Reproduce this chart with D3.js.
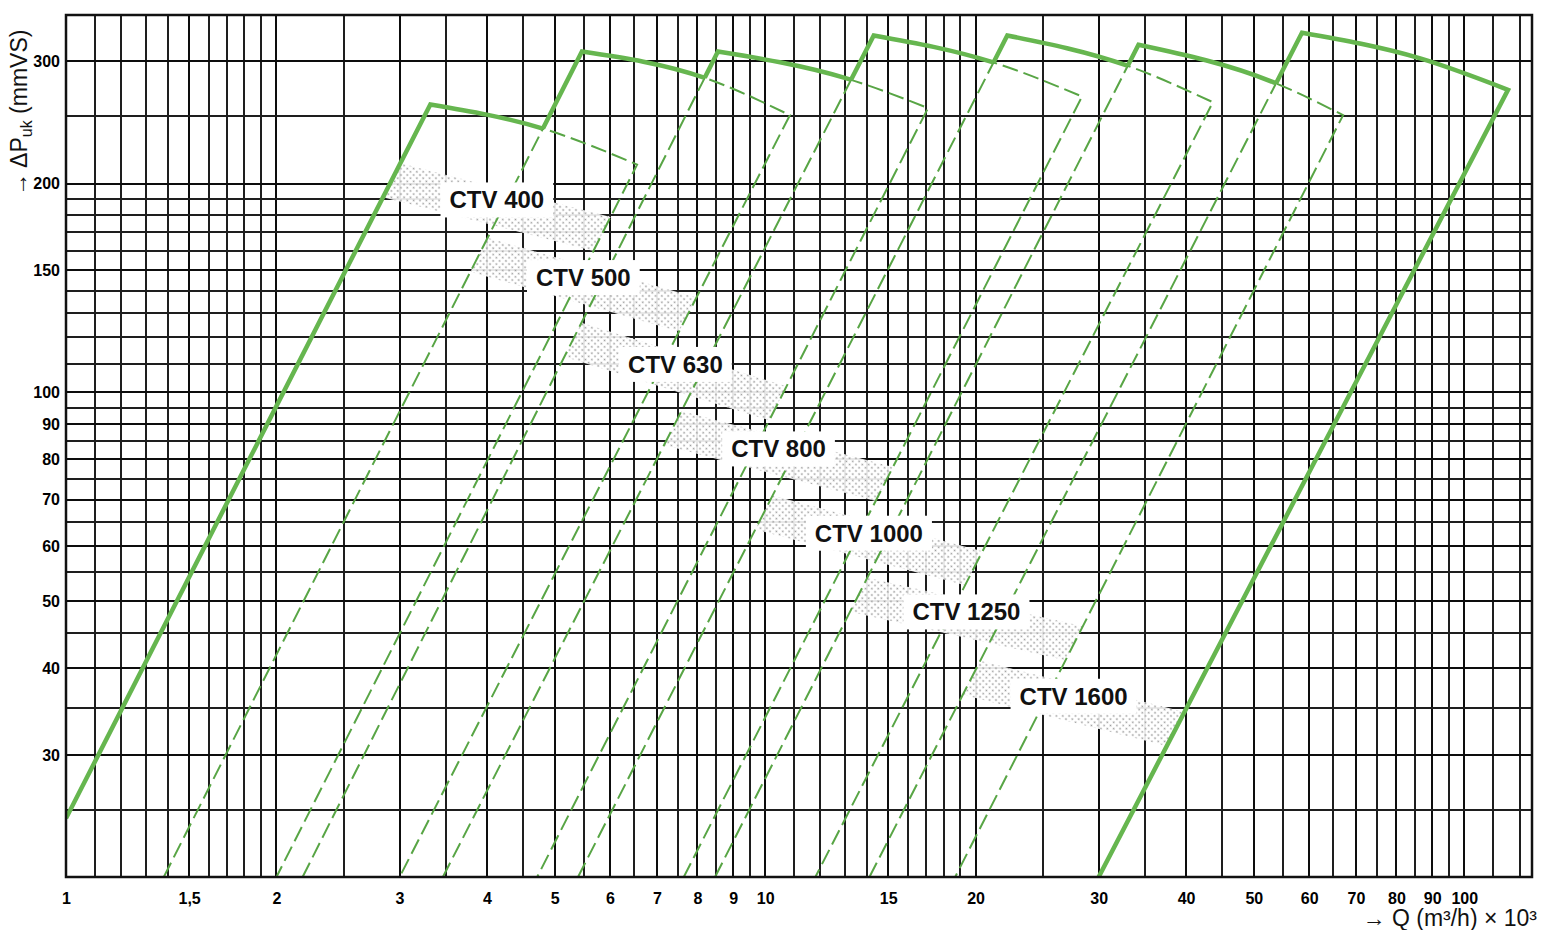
<!DOCTYPE html>
<html>
<head>
<meta charset="utf-8">
<script src="https://cdn.jsdelivr.net/npm/d3@7"></script>
<style>
  body { margin: 0; background: #fff; }
  svg { display: block; font-family: "Liberation Sans", Arial, sans-serif; }
</style>
</head>
<body>
<svg id="chart"></svg>
<script>
const W = 1552, H = 930;
const margin = { top: 15, right: 20, bottom: 53, left: 66 };

// fan sizes
const models = ["CTV 400", "CTV 500", "CTV 630", "CTV 800", "CTV 1000", "CTV 1250", "CTV 1600"];

// [Q (m3/h x 1000), dP (mmVS)]
const leftFoot = [[1, 24.3], [1.38, 20], [2.18, 20], [3.46, 20], [5.4, 20], [8.48, 20], [14.1, 20]];
const topCurve = [
  [[3.32, 260], [4.81, 240], [6.56, 213]],
  [[5.47, 310], [8.2, 284], [10.85, 251]],
  [[8.56, 310], [13.0, 284], [17.1, 257]],
  [[14.3, 327], [21.2, 299], [28.4, 267]],
  [[22.2, 327], [32.9, 296], [43.7, 262]],
  [[34.2, 317], [53.3, 280], [67.1, 251]],
  [[58.6, 330], [86.5, 303], [115.5, 273]]
];
const rightFoot = [[2.0, 20], [3.0, 20], [4.72, 20], [7.65, 20], [11.8, 20], [18.7, 20], [30, 20]];

// shaded label bands: dP where the band's upper edge meets the left / right line
const bandFrom = [214, 167, 126, 94, 71, 54, 41];
const bandTo = [179, 137, 102, 78, 59, 46, 34.6];

const xTicks = [1, 1.5, 2, 3, 4, 5, 6, 7, 8, 9, 10, 15, 20, 30, 40, 50, 60, 70, 80, 90, 100];
const yTicks = [30, 40, 50, 60, 70, 80, 90, 100, 150, 200, 300];

const svg = d3.select("#chart").attr("width", W).attr("height", H);

const x = d3.scaleLog().domain([1, 125]).range([margin.left, W - margin.right]);
const y = d3.scaleLog().domain([20, 350]).range([H - margin.bottom, margin.top]);
const x0 = x.range()[0], x1 = x.range()[1], yb = y.range()[0], yt = y.range()[1];

const defs = svg.append("defs");
defs.append("clipPath").attr("id", "plot")
  .append("rect").attr("x", x0).attr("y", yt).attr("width", x1 - x0).attr("height", yb - yt);

const pat = defs.append("pattern").attr("id", "dots")
  .attr("width", 4.5).attr("height", 4.5)
  .attr("patternUnits", "userSpaceOnUse")
  .attr("patternTransform", "rotate(45)");
pat.append("rect").attr("width", 4.5).attr("height", 4.5).attr("fill", "#fff").attr("fill-opacity", 0.9);
pat.append("circle").attr("cx", 2.25).attr("cy", 2.25).attr("r", 0.95).attr("fill", "#9c9c9c");

// log paper grid
const xGrid = d3.range(11, 20).map(v => v / 10)
  .concat(d3.range(4, 20).map(v => v / 2), d3.range(10, 20), d3.range(20, 100, 5), d3.range(100, 125, 10))
  .filter(v => v > 1);
const yGrid = d3.range(25, 100, 5).concat(d3.range(100, 200, 10), [200, 250, 300]);

const grid = svg.append("g").attr("shape-rendering", "crispEdges");
grid.selectAll("line.v").data(xGrid).join("line")
  .attr("class", "v")
  .attr("x1", d => x(d)).attr("x2", d => x(d))
  .attr("y1", yt).attr("y2", yb)
  .attr("stroke", d => xTicks.includes(d) ? "#0d0d0d" : "#1e1e1e")
  .attr("stroke-width", 2);
grid.selectAll("line.h").data(yGrid).join("line")
  .attr("class", "h")
  .attr("x1", x0).attr("x2", x1)
  .attr("y1", d => y(d)).attr("y2", d => y(d))
  .attr("stroke", d => yTicks.includes(d) ? "#0d0d0d" : "#1e1e1e")
  .attr("stroke-width", 2);

const lin = d3.line().x(d => x(d[0])).y(d => y(d[1]));
const arc = d3.line().x(d => x(d[0])).y(d => y(d[1])).curve(d3.curveMonotoneX);

function outline(i) {
  const t = topCurve[i], r = rightFoot[i];
  return lin([leftFoot[i], t[0]]) + arc(t).replace(/^M/, "L") + `L${x(r[0])},${y(r[1])}`;
}
function region(i) {
  return outline(i) + `L${x(leftFoot[i][0])},${yb}Z`;
}

// point on a straight pixel segment at a given pixel y
function atY(a, b, yy) {
  const pa = [x(a[0]), y(a[1])], pb = [x(b[0]), y(b[1])];
  return [pa[0] + (yy - pa[1]) * (pb[0] - pa[0]) / (pb[1] - pa[1]), yy];
}
const bandH = 34;
function band(i) {
  const t = topCurve[i];
  const ya = y(bandFrom[i]), yz = y(bandTo[i]);
  return [
    atY(leftFoot[i], t[0], ya),
    atY(t[t.length - 1], rightFoot[i], yz),
    atY(t[t.length - 1], rightFoot[i], yz + bandH),
    atY(leftFoot[i], t[0], ya + bandH)
  ];
}

const plot = svg.append("g").attr("clip-path", "url(#plot)");

plot.append("g").selectAll("path").data(models).join("path")
  .attr("d", (d, i) => "M" + band(i).join("L") + "Z")
  .attr("fill", "url(#dots)");

// each fan's limits, thin dashed
plot.append("g").selectAll("path").data(models).join("path")
  .attr("d", (d, i) => outline(i))
  .attr("fill", "none")
  .attr("stroke", "#58a545")
  .attr("stroke-width", 2)
  .attr("stroke-dasharray", "16 6");

// outer envelope: each outline minus what lies inside the other fans
models.forEach((m, i) => {
  const mk = defs.append("mask").attr("id", "env" + i)
    .attr("maskUnits", "userSpaceOnUse")
    .attr("x", 0).attr("y", 0).attr("width", W).attr("height", H);
  mk.append("rect").attr("width", W).attr("height", H).attr("fill", "#fff");
  models.forEach((n, j) => {
    if (j !== i) mk.append("path").attr("d", region(j)).attr("fill", "#000");
  });
});
plot.append("g").selectAll("path").data(models).join("path")
  .attr("d", (d, i) => outline(i))
  .attr("mask", (d, i) => `url(#env${i})`)
  .attr("fill", "none")
  .attr("stroke", "#66b64f")
  .attr("stroke-width", 4.5)
  .attr("stroke-linejoin", "miter");

// frame
svg.append("rect")
  .attr("x", x0).attr("y", yt).attr("width", x1 - x0).attr("height", yb - yt)
  .attr("fill", "none").attr("stroke", "#111").attr("stroke-width", 2.5);

// labels
const labels = svg.append("g").selectAll("g").data(models).join("g")
  .attr("transform", (d, i) => {
    const p = band(i);
    return `translate(${d3.mean(p, q => q[0])},${d3.mean(p, q => q[1]) + bandH / 2 - 24})`;
  });
labels.append("text")
  .attr("text-anchor", "middle")
  .attr("dy", "0.35em")
  .attr("font-size", 24)
  .attr("font-weight", 700)
  .attr("fill", "#111")
  .text(d => d);
labels.each(function () {
  const g = d3.select(this);
  const bb = g.select("text").node().getBBox();
  g.insert("rect", "text")
    .attr("x", bb.x - 9).attr("y", bb.y - 4)
    .attr("width", bb.width + 18).attr("height", bb.height + 8)
    .attr("fill", "#fff");
});

// axes
svg.append("g")
  .attr("transform", `translate(0,${yb})`)
  .call(d3.axisBottom(x).tickValues(xTicks).tickSize(0).tickPadding(16)
    .tickFormat(d => String(d).replace(".", ",")))
  .call(g => g.select(".domain").remove())
  .attr("font-family", null)
  .attr("font-size", 16)
  .attr("font-weight", 700);

svg.append("g")
  .attr("transform", `translate(${x0},0)`)
  .call(d3.axisLeft(y).tickValues(yTicks).tickSize(0).tickPadding(6).tickFormat(d3.format("d")))
  .call(g => g.select(".domain").remove())
  .attr("font-family", null)
  .attr("font-size", 16)
  .attr("font-weight", 700);

svg.append("text")
  .attr("x", 1537).attr("y", 926)
  .attr("text-anchor", "end")
  .attr("font-size", 23)
  .attr("fill", "#111")
  .text("→ Q (m³/h) × 10³");

const yTitle = svg.append("text")
  .attr("transform", "translate(27,196) rotate(-90)")
  .attr("font-size", 23)
  .attr("fill", "#111");
yTitle.append("tspan").text("→  ΔP");
yTitle.append("tspan").attr("font-size", 16).attr("dy", 5).text("uk");
yTitle.append("tspan").attr("dy", -5).text(" (mmVS)");
</script>
</body>
</html>
